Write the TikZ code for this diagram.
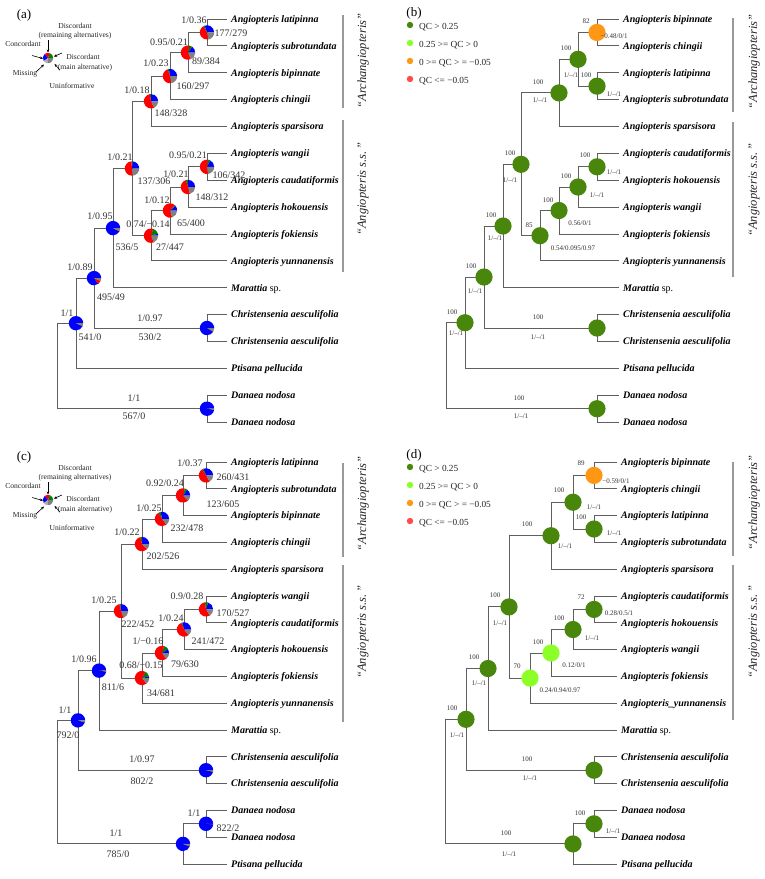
\documentclass[tikz,border=0pt]{standalone}
\usepackage{fontspec}
\setmainfont{Liberation Serif}
\usetikzlibrary{arrows.meta}
\definecolor{pblue}{RGB}{0,0,255}
\definecolor{pred}{RGB}{255,0,0}
\definecolor{pgreen}{RGB}{0,128,0}
\definecolor{pgray}{RGB}{128,128,128}
\definecolor{plgray}{RGB}{175,175,175}
\definecolor{qdg}{RGB}{72,135,12}
\definecolor{qlg}{RGB}{140,255,40}
\definecolor{qor}{RGB}{255,150,20}
\definecolor{qrd}{RGB}{255,75,75}
\definecolor{brc}{RGB}{95,95,95}
\newcommand{\pr}{7.2}
\newcommand{\qr}{8.6}
\newcommand{\sect}[5]{\fill[#5] (#1) -- ++(-#2:#4) arc[start angle=-#2,end angle=-#3,radius=#4] -- cycle;}
\newcommand{\qpie}[4]{\sect{#1}{0}{#2}{\pr}{pblue}\sect{#1}{#2}{#3}{\pr}{pgreen}\sect{#1}{#3}{#4}{\pr}{pred}\sect{#1}{#4}{360}{\pr}{pgray}}
\tikzset{
 br/.style={draw=brc, line width=0.9pt},
 tx/.style={anchor=west, inner xsep=4pt, inner ysep=0pt, text height=6.6pt, text depth=0pt, font=\fontsize{10}{12}\selectfont\bfseries\itshape},
 lb/.style={inner sep=0pt, text=black!80, font=\fontsize{10}{12}\selectfont},
 sm/.style={inner sep=0pt, text=black!80, font=\fontsize{7}{8}\selectfont},
 lg/.style={inner sep=0pt, text=black!85, font=\fontsize{7.6}{9}\selectfont},
 ql/.style={anchor=west, inner sep=0pt, text=black!85, font=\fontsize{9.3}{11}\selectfont},
 pl/.style={inner sep=0pt, font=\fontsize{13}{15}\selectfont},
 bk/.style={draw=black!40, line width=1.3pt},
 bl/.style={rotate=90, inner sep=0pt, font=\fontsize{12.5}{14}\selectfont\itshape, text=black!85},
 ar/.style={-{Stealth[length=3pt,width=2.6pt]}, line width=0.6pt},
 dot/.style={circle, inner sep=0pt, minimum size=6.4pt},
}
\newcommand{\pielegend}[1]{%
 \coordinate (#1p) at (48,58);
 \sect{#1p}{0}{70}{5.2}{pgreen}\sect{#1p}{70}{130}{5.2}{pred}\sect{#1p}{130}{215}{5.2}{pblue}\sect{#1p}{215}{265}{5.2}{plgray}\sect{#1p}{265}{360}{5.2}{pgray}
 \node[lg] (#1t1) at (75,26) {Discordant};
 \node[lg] (#1t2) at (75,36) {(remaining alternatives)};
 \node[lg] (#1t3) at (23,44) {Concordant};
 \node[lg] (#1t4) at (83,57) {Discordant};
 \node[lg] (#1t5) at (85,68) {(main alternative)};
 \node[lg] (#1t6) at (25,74) {Missing};
 \node[lg] (#1t7) at (72,86) {Uninformative};
 \coordinate (#1s1) at (32,55.5); \coordinate (#1e1) at (43,58.5);
 \coordinate (#1s2) at (48,40); \coordinate (#1e2) at (48,52.5);
 \coordinate (#1s3) at (62,53); \coordinate (#1e3) at (54,56.5);
 \coordinate (#1s4) at (36,72); \coordinate (#1e4) at (44,64.5);
 \coordinate (#1s5) at (60,70); \coordinate (#1e5) at (54.5,64);
 \draw[ar] (#1s1) -- (#1e1); \draw[ar] (#1s2) -- (#1e2); \draw[ar] (#1s3) -- (#1e3);
 \draw[ar] (#1s4) -- (#1e4); \draw[ar] (#1s5) -- (#1e5);
}
\newcommand{\qclegend}[1]{%
 \node[dot, fill=qdg] (#1d1) at (410,25) {};
 \node[dot, fill=qlg] (#1d2) at (410,43) {};
 \node[dot, fill=qor] (#1d3) at (410,61) {};
 \node[dot, fill=qrd] (#1d4) at (410,79) {};
 \node[ql] (#1q1) at (419,27) {QC > 0.25};
 \node[ql] (#1q2) at (419,45) {0.25 >= QC > 0};
 \node[ql] (#1q3) at (419,63) {0 >= QC > = −0.05};
 \node[ql] (#1q4) at (419,81) {QC <= −0.05};
}
\begin{document}
\begin{tikzpicture}[x=1pt,y=-1pt]
\path[use as bounding box, fill=white] (0,0) rectangle (764,879);

% ================= panel (a) =================
\node[pl] (pa) at (24,15) {(a)};
\pielegend{la}
\node[tx] (a0) at (227,19.0) {Angiopteris latipinna};
\node[tx] (a1) at (227,45.9) {Angiopteris subrotundata};
\node[tx] (a2) at (227,72.7) {Angiopteris bipinnate};
\node[tx] (a3) at (227,99.6) {Angiopteris chingii};
\node[tx] (a4) at (227,126.5) {Angiopteris sparsisora};
\node[tx] (a5) at (227,153.4) {Angiopteris wangii};
\node[tx] (a6) at (227,180.2) {Angiopteris caudatiformis};
\node[tx] (a7) at (227,207.1) {Angiopteris hokouensis};
\node[tx] (a8) at (227,234.0) {Angiopteris fokiensis};
\node[tx] (a9) at (227,260.8) {Angiopteris yunnanensis};
\node[tx] (a10) at (227,287.7) {Marattia \normalfont sp.};
\node[tx] (a11) at (227,314.6) {Christensenia aesculifolia};
\node[tx] (a12) at (227,341.4) {Christensenia aesculifolia};
\node[tx] (a13) at (227,368.3) {Ptisana pellucida};
\node[tx] (a14) at (227,395.2) {Danaea nodosa};
\node[tx] (a15) at (227,422.1) {Danaea nodosa};
\coordinate (A1) at (207,32.45);
\coordinate (A2) at (188,52.6);
\coordinate (A3) at (170,76.1);
\coordinate (A4) at (151,101.3);
\coordinate (A5) at (207,166.8);
\coordinate (A6) at (188,187.0);
\coordinate (A7) at (170,210.5);
\coordinate (A8) at (151,235.7);
\coordinate (A9) at (132,168.5);
\coordinate (A10) at (113,228.1);
\coordinate (A11) at (94,278.1);
\coordinate (A12) at (207,328.0);
\coordinate (A13) at (76,323.2);
\coordinate (A14) at (207,408.7);
\coordinate (A15) at (57,366);
\draw[br] (A1) |- (a0.west) (A1) |- (a1.west);
\draw[br] (A2) |- (A1) (A2) |- (a2.west);
\draw[br] (A3) |- (A2) (A3) |- (a3.west);
\draw[br] (A4) |- (A3) (A4) |- (a4.west);
\draw[br] (A5) |- (a5.west) (A5) |- (a6.west);
\draw[br] (A6) |- (A5) (A6) |- (a7.west);
\draw[br] (A7) |- (A6) (A7) |- (a8.west);
\draw[br] (A8) |- (A7) (A8) |- (a9.west);
\draw[br] (A9) |- (A4) (A9) |- (A8);
\draw[br] (A10) |- (A9) (A10) |- (a10.west);
\draw[br] (A11) |- (A10) (A11) |- (A12);
\draw[br] (A12) |- (a11.west) (A12) |- (a12.west);
\draw[br] (A13) |- (A11) (A13) |- (a13.west);
\draw[br] (A14) |- (a14.west) (A14) |- (a15.west);
\draw[br] (A15) |- (A13) (A15) |- (A14);
\qpie{A1}{110}{122}{283}
\qpie{A2}{55}{80}{293}
\qpie{A3}{99}{109}{283}
\qpie{A4}{92}{100}{296}
\qpie{A5}{66}{84}{278}
\qpie{A6}{92}{107}{286}
\qpie{A7}{40}{50}{288}
\qpie{A8}{17}{72}{294}
\qpie{A9}{85}{95}{275}
\qpie{A10}{333}{333}{336}
\qpie{A11}{307}{307}{337}
\qpie{A12}{329}{329}{330}
\qpie{A13}{336}{336}{336}
\qpie{A14}{352}{352}{352}
\node[lb] (la1) at (194,20) {1/0.36};
\node[lb] (lb1) at (231,33) {177/279};
\node[lb] (la2) at (169,42) {0.95/0.21};
\node[lb] (lb2) at (206,61) {89/384};
\node[lb] (la3) at (156,63) {1/0.23};
\node[lb] (lb3) at (193,86) {160/297};
\node[lb] (la4) at (137,90) {1/0.18};
\node[lb] (lb4) at (171,113) {148/328};
\node[lb] (la9) at (120,157) {1/0.21};
\node[lb] (lb9) at (154,181) {137/306};
\node[lb] (la5) at (188,155) {0.95/0.21};
\node[lb] (lb5) at (229,175) {106/342};
\node[lb] (la6) at (176,174) {1/0.21};
\node[lb] (lb6) at (212,197) {148/312};
\node[lb] (la7) at (157,200) {1/0.12};
\node[lb] (lb7) at (191,223) {65/400};
\node[lb] (la8) at (148,224) {0.74/−0.14};
\node[lb] (lb8) at (170,247) {27/447};
\node[lb] (la10) at (100,216) {1/0.95};
\node[lb] (lb10) at (127,247) {536/5};
\node[lb] (la11) at (80,267) {1/0.89};
\node[lb] (lb11) at (111,297) {495/49};
\node[lb] (la13) at (67,313) {1/1};
\node[lb] (lb13) at (90,337) {541/0};
\node[lb] (la12) at (150,318) {1/0.97};
\node[lb] (lb12) at (150,337) {530/2};
\node[lb] (la14) at (134,398) {1/1};
\node[lb] (lb14) at (134,416) {567/0};
\coordinate (ka1) at (343,15); \coordinate (ka2) at (343,108);
\coordinate (ka3) at (343,120); \coordinate (ka4) at (343,272);
\draw[bk] (ka1) -- (ka2); \draw[bk] (ka3) -- (ka4);
\node[bl] (ga1) at (363,61) {``Archangiopteris''};
\node[bl] (ga2) at (363,189) {``Angiopteris s.s.\,''};

% ================= panel (b) =================
\node[pl] (pb) at (414,13) {(b)};
\qclegend{lq}
\node[tx] (b0) at (619,19.0) {Angiopteris bipinnate};
\node[tx] (b1) at (619,45.9) {Angiopteris chingii};
\node[tx] (b2) at (619,72.7) {Angiopteris latipinna};
\node[tx] (b3) at (619,99.6) {Angiopteris subrotundata};
\node[tx] (b4) at (619,126.5) {Angiopteris sparsisora};
\node[tx] (b5) at (619,153.4) {Angiopteris caudatiformis};
\node[tx] (b6) at (619,180.2) {Angiopteris hokouensis};
\node[tx] (b7) at (619,207.1) {Angiopteris wangii};
\node[tx] (b8) at (619,234.0) {Angiopteris fokiensis};
\node[tx] (b9) at (619,260.8) {Angiopteris yunnanensis};
\node[tx] (b10) at (619,287.7) {Marattia \normalfont sp.};
\node[tx] (b11) at (619,314.6) {Christensenia aesculifolia};
\node[tx] (b12) at (619,341.4) {Christensenia aesculifolia};
\node[tx] (b13) at (619,368.3) {Ptisana pellucida};
\node[tx] (b14) at (619,395.2) {Danaea nodosa};
\node[tx] (b15) at (619,422.1) {Danaea nodosa};
\coordinate (B1) at (597,32.45);
\coordinate (B2) at (597,86.15);
\coordinate (B3) at (578,59.3);
\coordinate (B4) at (559,92.9);
\coordinate (B5) at (597,166.8);
\coordinate (B6) at (578,187.0);
\coordinate (B7) at (559,210.5);
\coordinate (B8) at (540,235.7);
\coordinate (B9) at (521,164.3);
\coordinate (B10) at (503,226);
\coordinate (B11) at (484,277);
\coordinate (B12) at (597,328);
\coordinate (B13) at (465,322.7);
\coordinate (B14) at (597,408.7);
\coordinate (B15) at (446,365.7);
\draw[br] (B1) |- (b0.west) (B1) |- (b1.west);
\draw[br] (B2) |- (b2.west) (B2) |- (b3.west);
\draw[br] (B3) |- (B1) (B3) |- (B2);
\draw[br] (B4) |- (B3) (B4) |- (b4.west);
\draw[br] (B5) |- (b5.west) (B5) |- (b6.west);
\draw[br] (B6) |- (B5) (B6) |- (b7.west);
\draw[br] (B7) |- (B6) (B7) |- (b8.west);
\draw[br] (B8) |- (B7) (B8) |- (b9.west);
\draw[br] (B9) |- (B4) (B9) |- (B8);
\draw[br] (B10) |- (B9) (B10) |- (b10.west);
\draw[br] (B11) |- (B10) (B11) |- (B12);
\draw[br] (B12) |- (b11.west) (B12) |- (b12.west);
\draw[br] (B13) |- (B11) (B13) |- (b13.west);
\draw[br] (B14) |- (b14.west) (B14) |- (b15.west);
\draw[br] (B15) |- (B13) (B15) |- (B14);
\fill[qor] (B1) circle (\qr);
\foreach \n in {B2,B3,B4,B5,B6,B7,B8,B9,B10,B11,B12,B13,B14} {\fill[qdg] (\n) circle (\qr);}
\node[sm] (sb1) at (586,21) {82};
\node[sm] (tb1) at (614,36) {−0.48/0/1};
\node[sm] (sb3) at (566,48) {100};
\node[sm] (tb3) at (571,75) {1/–/1};
\node[sm] (sb2) at (586,75) {100};
\node[sm] (tb2) at (614,94) {1/–/1};
\node[sm] (sb4) at (538,82) {100};
\node[sm] (tb4) at (540,100) {1/–/1};
\node[sm] (sb5) at (585,155) {100};
\node[sm] (tb5) at (614,172) {1/–/1};
\node[sm] (sb6) at (566,176) {100};
\node[sm] (tb6) at (597,195) {1/–/1};
\node[sm] (sb7) at (548,200) {100};
\node[sm] (tb7) at (580,223) {0.56/0/1};
\node[sm] (sb8) at (529,225) {85};
\node[sm] (tb8) at (573,248) {0.54/0.095/0.97};
\node[sm] (sb9) at (510,153) {100};
\node[sm] (tb9) at (510,180) {1/–/1};
\node[sm] (sb10) at (491,215) {100};
\node[sm] (tb10) at (495,238) {1/–/1};
\node[sm] (sb11) at (471,266) {100};
\node[sm] (tb11) at (475,291) {1/–/1};
\node[sm] (sb12) at (538,317) {100};
\node[sm] (tb12) at (538,337) {1/–/1};
\node[sm] (sb13) at (452,312) {100};
\node[sm] (tb13) at (456,333) {1/–/1};
\node[sm] (sb14) at (519,398) {100};
\node[sm] (tb14) at (521,416) {1/–/1};
\coordinate (kb1) at (733,18); \coordinate (kb2) at (733,112);
\coordinate (kb3) at (733,122); \coordinate (kb4) at (733,277);
\draw[bk] (kb1) -- (kb2); \draw[bk] (kb3) -- (kb4);
\node[bl] (gb1) at (754,62) {``Archangiopteris''};
\node[bl] (gb2) at (754,190) {``Angiopteris s.s.\,''};

% ================= panel (c) =================
\node[pl] (pc) at (24,457) {(c)};
\begin{scope}[shift={(0,442)}]
\pielegend{lc}
\end{scope}
\node[tx] (c0) at (227,462.0) {Angiopteris latipinna};
\node[tx] (c1) at (227,488.8) {Angiopteris subrotundata};
\node[tx] (c2) at (227,515.6) {Angiopteris bipinnate};
\node[tx] (c3) at (227,542.4) {Angiopteris chingii};
\node[tx] (c4) at (227,569.2) {Angiopteris sparsisora};
\node[tx] (c5) at (227,596.0) {Angiopteris wangii};
\node[tx] (c6) at (227,622.8) {Angiopteris caudatiformis};
\node[tx] (c7) at (227,649.6) {Angiopteris hokouensis};
\node[tx] (c8) at (227,676.4) {Angiopteris fokiensis};
\node[tx] (c9) at (227,703.2) {Angiopteris yunnanensis};
\node[tx] (c10) at (227,730.0) {Marattia \normalfont sp.};
\node[tx] (c11) at (227,756.8) {Christensenia aesculifolia};
\node[tx] (c12) at (227,783.6) {Christensenia aesculifolia};
\node[tx] (c13) at (227,810.4) {Danaea nodosa};
\node[tx] (c14) at (227,837.2) {Danaea nodosa};
\node[tx] (c15) at (227,864.0) {Ptisana pellucida};
\coordinate (C1) at (206,475.4);
\coordinate (C2) at (183,495.5);
\coordinate (C3) at (162,519);
\coordinate (C4) at (142,544.1);
\coordinate (C5) at (206,609.4);
\coordinate (C6) at (184,629.5);
\coordinate (C7) at (162,653);
\coordinate (C8) at (142,678.1);
\coordinate (C9) at (121,611.1);
\coordinate (C10) at (99,670.6);
\coordinate (C11) at (78,720.4);
\coordinate (C12) at (206,770.2);
\coordinate (C13) at (206,823.8);
\coordinate (C14) at (183,843.9);
\coordinate (C15) at (57,782);
\draw[br] (C1) |- (c0.west) (C1) |- (c1.west);
\draw[br] (C2) |- (C1) (C2) |- (c2.west);
\draw[br] (C3) |- (C2) (C3) |- (c3.west);
\draw[br] (C4) |- (C3) (C4) |- (c4.west);
\draw[br] (C5) |- (c5.west) (C5) |- (c6.west);
\draw[br] (C6) |- (C5) (C6) |- (c7.west);
\draw[br] (C7) |- (C6) (C7) |- (c8.west);
\draw[br] (C8) |- (C7) (C8) |- (c9.west);
\draw[br] (C9) |- (C4) (C9) |- (C8);
\draw[br] (C10) |- (C9) (C10) |- (c10.west);
\draw[br] (C11) |- (C10) (C11) |- (C12);
\draw[br] (C12) |- (c11.west) (C12) |- (c12.west);
\draw[br] (C13) |- (c13.west) (C13) |- (c14.west);
\draw[br] (C14) |- (C13) (C14) |- (c15.west);
\draw[br] (C15) |- (C11) (C15) |- (C14);
\qpie{C1}{113}{123}{300}
\qpie{C2}{53}{75}{315}
\qpie{C3}{101}{121}{308}
\qpie{C4}{88}{103}{316}
\qpie{C5}{74}{99}{303}
\qpie{C6}{105}{113}{310}
\qpie{C7}{34}{74}{307}
\qpie{C8}{15}{60}{310}
\qpie{C9}{96}{104}{292}
\qpie{C10}{352}{352}{355}
\qpie{C11}{344}{344}{344}
\qpie{C12}{348}{348}{349}
\qpie{C13}{356}{356}{357}
\qpie{C14}{340}{340}{340}
\node[lb] (lc1) at (190,463) {1/0.37};
\node[lb] (mc1) at (233,477) {260/431};
\node[lb] (lc2) at (165,483) {0.92/0.24};
\node[lb] (mc2) at (223,504) {123/605};
\node[lb] (lc3) at (149,508) {1/0.25};
\node[lb] (mc3) at (187,528) {232/478};
\node[lb] (lc4) at (127,532) {1/0.22};
\node[lb] (mc4) at (163,556) {202/526};
\node[lb] (lc5) at (187,596) {0.9/0.28};
\node[lb] (mc5) at (233,613) {170/527};
\node[lb] (lc6) at (171,618) {1/0.24};
\node[lb] (mc6) at (208,641) {241/472};
\node[lb] (lc7) at (148,641) {1/−0.16};
\node[lb] (mc7) at (185,664) {79/630};
\node[lb] (lc8) at (141,665) {0.68/−0.15};
\node[lb] (mc8) at (161,693) {34/681};
\node[lb] (lc9) at (104,600) {1/0.25};
\node[lb] (mc9) at (138,624) {222/452};
\node[lb] (lc10) at (84,659) {1/0.96};
\node[lb] (mc10) at (113,687) {811/6};
\node[lb] (lc11) at (65,710) {1/1};
\node[lb] (mc11) at (68,735) {792/0};
\node[lb] (lc12) at (142,759) {1/0.97};
\node[lb] (mc12) at (142,781) {802/2};
\node[lb] (lc13) at (194,813) {1/1};
\node[lb] (mc13) at (228,828) {822/2};
\node[lb] (lc14) at (116,833) {1/1};
\node[lb] (mc14) at (118,854) {785/0};
\coordinate (kc1) at (343,463); \coordinate (kc2) at (343,557);
\coordinate (kc3) at (343,565); \coordinate (kc4) at (343,722);
\draw[bk] (kc1) -- (kc2); \draw[bk] (kc3) -- (kc4);
\node[bl] (gc1) at (363,504) {``Archangiopteris''};
\node[bl] (gc2) at (363,632) {``Angiopteris s.s.\,''};

% ================= panel (d) =================
\node[pl] (pd) at (414,455) {(d)};
\begin{scope}[shift={(0,442)}]
\qclegend{ld}
\end{scope}
\node[tx] (d0) at (617,462.0) {Angiopteris bipinnate};
\node[tx] (d1) at (617,488.8) {Angiopteris chingii};
\node[tx] (d2) at (617,515.6) {Angiopteris latipinna};
\node[tx] (d3) at (617,542.4) {Angiopteris subrotundata};
\node[tx] (d4) at (617,569.2) {Angiopteris sparsisora};
\node[tx] (d5) at (617,596.0) {Angiopteris caudatiformis};
\node[tx] (d6) at (617,622.8) {Angiopteris hokouensis};
\node[tx] (d7) at (617,649.6) {Angiopteris wangii};
\node[tx] (d8) at (617,676.4) {Angiopteris fokiensis};
\node[tx] (d9) at (617,703.2) {Angiopteris\_yunnanensis};
\node[tx] (d10) at (617,730.0) {Marattia \normalfont sp.};
\node[tx] (d11) at (617,756.8) {Christensenia aesculifolia};
\node[tx] (d12) at (617,783.6) {Christensenia aesculifolia};
\node[tx] (d13) at (617,810.4) {Danaea nodosa};
\node[tx] (d14) at (617,837.2) {Danaea nodosa};
\node[tx] (d15) at (617,864.0) {Ptisana pellucida};
\coordinate (D1) at (594,475.4);
\coordinate (D2) at (594,529);
\coordinate (D3) at (573,502.2);
\coordinate (D4) at (551,535.7);
\coordinate (D5) at (594,609.4);
\coordinate (D6) at (573,629.5);
\coordinate (D7) at (551,653);
\coordinate (D8) at (530,678.1);
\coordinate (D9) at (509,606.9);
\coordinate (D10) at (488,668.5);
\coordinate (D11) at (466,719.3);
\coordinate (D12) at (594,770.2);
\coordinate (D13) at (594,823.8);
\coordinate (D14) at (573,843.9);
\coordinate (D15) at (445,781.6);
\draw[br] (D1) |- (d0.west) (D1) |- (d1.west);
\draw[br] (D2) |- (d2.west) (D2) |- (d3.west);
\draw[br] (D3) |- (D1) (D3) |- (D2);
\draw[br] (D4) |- (D3) (D4) |- (d4.west);
\draw[br] (D5) |- (d5.west) (D5) |- (d6.west);
\draw[br] (D6) |- (D5) (D6) |- (d7.west);
\draw[br] (D7) |- (D6) (D7) |- (d8.west);
\draw[br] (D8) |- (D7) (D8) |- (d9.west);
\draw[br] (D9) |- (D4) (D9) |- (D8);
\draw[br] (D10) |- (D9) (D10) |- (d10.west);
\draw[br] (D11) |- (D10) (D11) |- (D12);
\draw[br] (D12) |- (d11.west) (D12) |- (d12.west);
\draw[br] (D13) |- (d13.west) (D13) |- (d14.west);
\draw[br] (D14) |- (D13) (D14) |- (d15.west);
\draw[br] (D15) |- (D11) (D15) |- (D14);
\fill[qor] (D1) circle (\qr);
\fill[qlg] (D7) circle (\qr);
\fill[qlg] (D8) circle (\qr);
\foreach \n in {D2,D3,D4,D5,D6,D9,D10,D11,D12,D13,D14} {\fill[qdg] (\n) circle (\qr);}
\node[sm] (sd1) at (581,463) {89};
\node[sm] (td1) at (616,481) {−0.59/0/1};
\node[sm] (sd3) at (559,490) {100};
\node[sm] (td3) at (594,507) {1/–/1};
\node[sm] (sd2) at (581,517) {100};
\node[sm] (td2) at (614,533) {1/–/1};
\node[sm] (sd4) at (527,524) {100};
\node[sm] (td4) at (565,546) {1/–/1};
\node[sm] (sd5) at (581,597) {72};
\node[sm] (td5) at (619,613) {0.28/0.5/1};
\node[sm] (sd6) at (559,618) {100};
\node[sm] (td6) at (592,638) {1/–/1};
\node[sm] (sd7) at (538,642) {100};
\node[sm] (td7) at (574,665) {0.12/0/1};
\node[sm] (sd8) at (517,666) {70};
\node[sm] (td8) at (560,690) {0.24/0.94/0.97};
\node[sm] (sd9) at (495,595) {100};
\node[sm] (td9) at (500,623) {1/–/1};
\node[sm] (sd10) at (474,657) {100};
\node[sm] (td10) at (479,683) {1/–/1};
\node[sm] (sd11) at (452,708) {100};
\node[sm] (td11) at (457,735) {1/–/1};
\node[sm] (sd12) at (527,759) {100};
\node[sm] (td12) at (530,778) {1/–/1};
\node[sm] (sd13) at (580,813) {100};
\node[sm] (td13) at (613,831) {1/–/1};
\node[sm] (sd14) at (506,833) {100};
\node[sm] (td14) at (509,854) {1/–/1};
\coordinate (kd1) at (733,462); \coordinate (kd2) at (733,556);
\coordinate (kd3) at (733,565); \coordinate (kd4) at (733,720);
\draw[bk] (kd1) -- (kd2); \draw[bk] (kd3) -- (kd4);
\node[bl] (gd1) at (754,503) {``Archangiopteris''};
\node[bl] (gd2) at (754,632) {``Angiopteris s.s.\,''};
\end{tikzpicture}
\end{document}
